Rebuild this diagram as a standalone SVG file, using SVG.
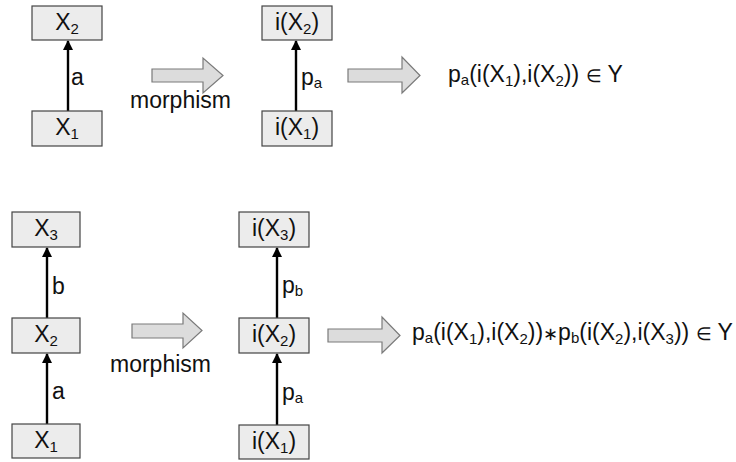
<svg xmlns="http://www.w3.org/2000/svg" width="736" height="462" viewBox="0 0 736 462">
<defs>
<style>
.box{fill:#ececec;stroke:#444;stroke-width:1.2}
.t{font-family:"Liberation Sans",Arial,sans-serif;font-size:23px;fill:#111}
.c{text-anchor:middle}
.edge{stroke:#000;stroke-width:2.4;fill:none;marker-end:url(#ah)}
.fat{fill:#dcdcdc;stroke:#7a7a7a;stroke-width:1.2}
.s{font-size:15px}
.e{font-size:18px}
</style>
<marker id="ah" viewBox="0 0 10 12" refX="9" refY="6" markerWidth="10" markerHeight="12" markerUnits="userSpaceOnUse" orient="auto">
<path d="M0,1 L10,6 L0,11 Z" fill="#000"/>
</marker>
</defs>
<rect width="736" height="462" fill="#fff"/>
<g id="connectors">
<line class="edge" x1="68" y1="111" x2="68" y2="41"/>
<line class="edge" x1="296" y1="111" x2="296" y2="41"/>
<line class="edge" x1="47" y1="318" x2="47" y2="248"/>
<line class="edge" x1="47" y1="424" x2="47" y2="354"/>
<line class="edge" x1="277" y1="318" x2="277" y2="248"/>
<line class="edge" x1="277" y1="425" x2="277" y2="354"/>
<text class="t" x="71" y="85">a</text>
<text class="t" x="301" y="85">p<tspan class="s" dy="3">a</tspan></text>
<text class="t" x="52" y="294">b</text>
<text class="t" x="52" y="399">a</text>
<text class="t" x="282" y="293">p<tspan class="s" dy="3">b</tspan></text>
<text class="t" x="282" y="400">p<tspan class="s" dy="3">a</tspan></text>
</g>
<g id="fat1"><polygon class="fat" points="152,69 203,69 203,58 223,75.5 203,93 203,82 152,82"/><text class="t" x="130" y="108">morphism</text></g>
<g id="fat2"><polygon class="fat" points="348,69 402,69 402,57 420,75.5 402,93 402,82 348,82"/></g>
<g id="fat3"><polygon class="fat" points="132,324 183,324 183,313 202,330.5 183,348 183,338 132,338"/><text class="t" x="110" y="372">morphism</text></g>
<g id="fat4"><polygon class="fat" points="328,329 382,329 382,317 400,335.5 382,353 382,342 328,342"/></g>
<g id="n_x2"><rect class="box" x="32" y="6" width="70" height="34"/><text class="t c" x="67" y="30">X<tspan class="s" dy="4">2</tspan></text></g>
<g id="n_x1"><rect class="box" x="32" y="111" width="70" height="35"/><text class="t c" x="67" y="135">X<tspan class="s" dy="4">1</tspan></text></g>
<g id="n_ix2"><rect class="box" x="262" y="6" width="70" height="34"/><text class="t c" x="297" y="30">i(X<tspan class="s" dy="4">2</tspan><tspan dy="-4">)</tspan></text></g>
<g id="n_ix1"><rect class="box" x="262" y="111" width="70" height="35"/><text class="t c" x="297" y="135">i(X<tspan class="s" dy="4">1</tspan><tspan dy="-4">)</tspan></text></g>
<g id="f1"><text class="t" x="448" y="82">p<tspan class="s" dy="3">a</tspan><tspan dy="-3">(i(X</tspan><tspan class="s" dy="4">1</tspan><tspan dy="-4">),i(X</tspan><tspan class="s" dy="4">2</tspan><tspan dy="-4">)) </tspan><tspan class="e">∈</tspan> Y</text></g>
<g id="n_bx3"><rect class="box" x="12" y="212" width="68" height="35"/><text class="t c" x="46" y="236">X<tspan class="s" dy="4">3</tspan></text></g>
<g id="n_bx2"><rect class="box" x="12" y="318" width="68" height="35"/><text class="t c" x="46" y="342">X<tspan class="s" dy="4">2</tspan></text></g>
<g id="n_bx1"><rect class="box" x="12" y="424" width="68" height="34"/><text class="t c" x="46" y="448">X<tspan class="s" dy="4">1</tspan></text></g>
<g id="n_bix3"><rect class="box" x="239" y="212" width="70" height="35"/><text class="t c" x="274" y="236">i(X<tspan class="s" dy="4">3</tspan><tspan dy="-4">)</tspan></text></g>
<g id="n_bix2"><rect class="box" x="239" y="318" width="70" height="35"/><text class="t c" x="274" y="342">i(X<tspan class="s" dy="4">2</tspan><tspan dy="-4">)</tspan></text></g>
<g id="n_bix1"><rect class="box" x="239" y="425" width="70" height="34"/><text class="t c" x="274" y="449">i(X<tspan class="s" dy="4">1</tspan><tspan dy="-4">)</tspan></text></g>
<g id="f2"><text class="t" x="412" y="340">p<tspan class="s" dy="3">a</tspan><tspan dy="-3">(i(X</tspan><tspan class="s" dy="4">1</tspan><tspan dy="-4">),i(X</tspan><tspan class="s" dy="4">2</tspan><tspan dy="-4">))</tspan><tspan class="e">∗</tspan>p<tspan class="s" dy="3">b</tspan><tspan dy="-3">(i(X</tspan><tspan class="s" dy="4">2</tspan><tspan dy="-4">),i(X</tspan><tspan class="s" dy="4">3</tspan><tspan dy="-4">)) </tspan><tspan class="e">∈</tspan> Y</text></g>
</svg>
